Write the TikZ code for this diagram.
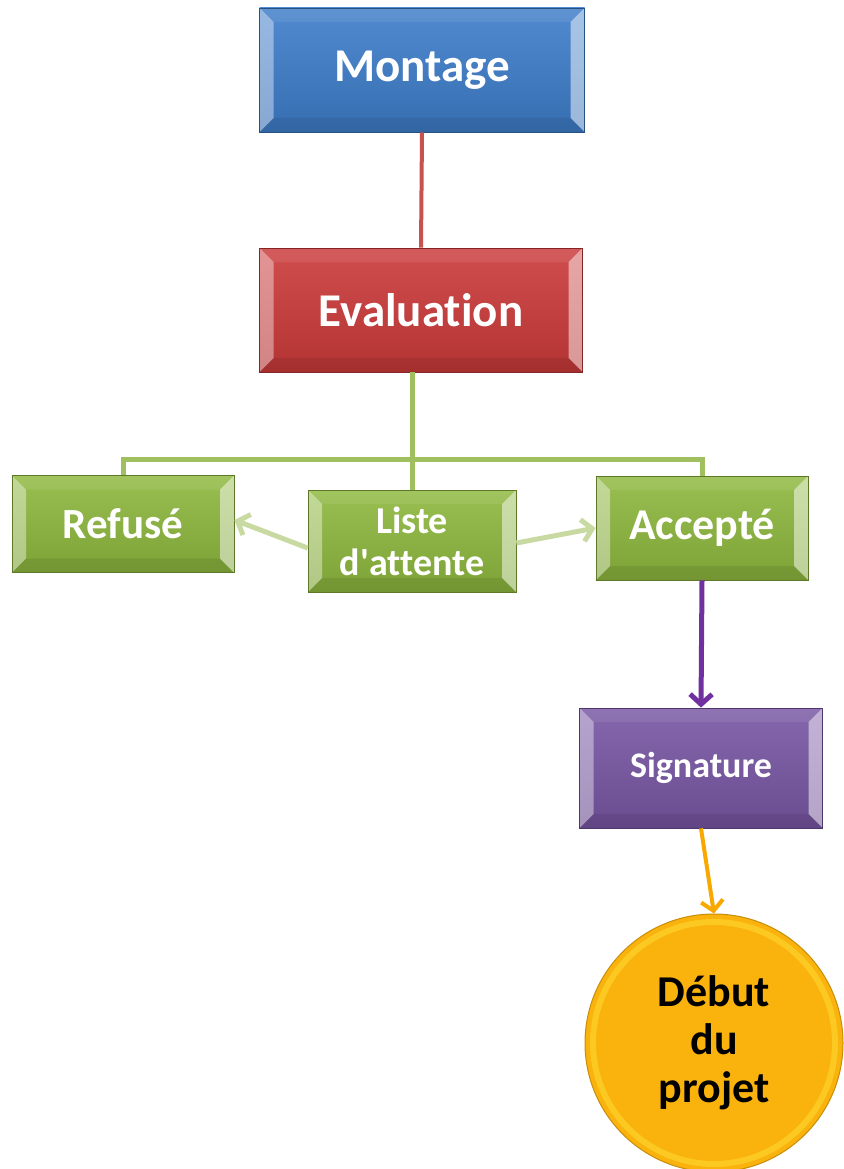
\documentclass[tikz,border=0pt]{standalone}
\usepackage{fontspec}
\setmainfont{Carlito}[Ligatures=NoCommon]
\usetikzlibrary{arrows.meta}

\definecolor{montblue}{RGB}{62,125,202}
\definecolor{evalred}{RGB}{204,58,58}
\definecolor{choixgreen}{RGB}{142,184,62}
\definecolor{signpurple}{RGB}{120,86,164}
\definecolor{debutorange}{RGB}{250,178,12}
\definecolor{lienred}{RGB}{200,82,78}
\definecolor{liengreen}{RGB}{160,192,96}
\definecolor{lienpale}{RGB}{200,218,162}
\definecolor{lienpurple}{RGB}{112,48,160}
\definecolor{lienorange}{RGB}{248,168,0}

\tikzset{>={Straight Barb[length=10pt,width=22pt]}}
\tikzset{
	phase/.style={rectangle, inner sep=0pt, text=white,
		draw=#1!65!black, line width=0.8pt,
		top color=#1!90!white, bottom color=#1!88!black,
		path picture={
			\fill[white,opacity=.4] (path picture bounding box.north west) -- ++(14pt,-14pt)
				-- ([shift={(14pt,14pt)}]path picture bounding box.south west) -- (path picture bounding box.south west) -- cycle;
			\fill[white,opacity=.5] (path picture bounding box.north east) -- ++(-14pt,-14pt)
				-- ([shift={(-14pt,14pt)}]path picture bounding box.south east) -- (path picture bounding box.south east) -- cycle;
			\fill[white,opacity=.08] (path picture bounding box.north west) -- ++(14pt,-14pt)
				-- ([shift={(-14pt,-14pt)}]path picture bounding box.north east) -- (path picture bounding box.north east) -- cycle;
			\fill[black,opacity=.08] (path picture bounding box.south west) -- ++(14pt,14pt)
				-- ([shift={(-14pt,14pt)}]path picture bounding box.south east) -- (path picture bounding box.south east) -- cycle;
		}},
	disque/.style={circle, inner sep=0pt, minimum size=258pt,
		fill=debutorange, draw=debutorange!80!black, line width=1pt,
		path picture={
			\draw[yellow!70!white,opacity=.35,line width=6pt] (path picture bounding box.center) circle (121pt);
		}}
}

\begin{document}
\begin{tikzpicture}[x=1pt,y=-1pt]

	\useasboundingbox (0,0) rectangle (843,1169);

	\node[phase=montblue, minimum width=325pt, minimum height=124pt,
		font=\bfseries\fontsize{47}{50}\selectfont] (mont) at (422,70) {Montage};
	\node[phase=evalred, minimum width=323pt, minimum height=124pt,
		font=\bfseries\fontsize{47}{50}\selectfont] (eval) at (421,310) {Evaluation};

	\node[phase=choixgreen, minimum width=222pt, minimum height=97pt,
		font=\bfseries\fontsize{43}{46}\selectfont] (refus) at (123,524) {Refusé};
	\node[phase=choixgreen, minimum width=208pt, minimum height=102pt, align=center,
		font=\bfseries\fontsize{38}{42}\selectfont] (liste) at (412,541) {Liste\\d\textquotesingle attente};
	\node[phase=choixgreen, minimum width=212pt, minimum height=104pt,
		font=\bfseries\fontsize{44}{46}\selectfont] (accep) at (702,528) {Accepté};

	\node[phase=signpurple, minimum width=243pt, minimum height=120pt,
		font=\bfseries\fontsize{36}{40}\selectfont] (sign) at (701,768) {Signature};

	\node[disque, align=center, font=\bfseries\fontsize{44}{48}\selectfont] (debut) at (714,1043)
		{Début\\du\\projet};

	\draw[lienred, line width=4pt] (mont.south) -- (eval.north);

	\draw[liengreen, line width=5pt] (liste.north |- eval.south) -- (liste.north);
	\draw[liengreen, line width=5pt] (refus.north) -- ++(0,-16) -| (accep.north);

	\draw[->, lienpale, line width=5pt] ([yshift=-7pt]liste.west) -- ([yshift=4pt]refus.east);
	\draw[->, lienpale, line width=5pt] ([yshift=-2pt]liste.east) -- (accep.west);

	\draw[->, lienpurple, line width=5pt] (accep.south) -- (sign.north);
	\draw[->, lienorange, line width=4pt] (sign.south) -- (debut.north);

\end{tikzpicture}
\end{document}
